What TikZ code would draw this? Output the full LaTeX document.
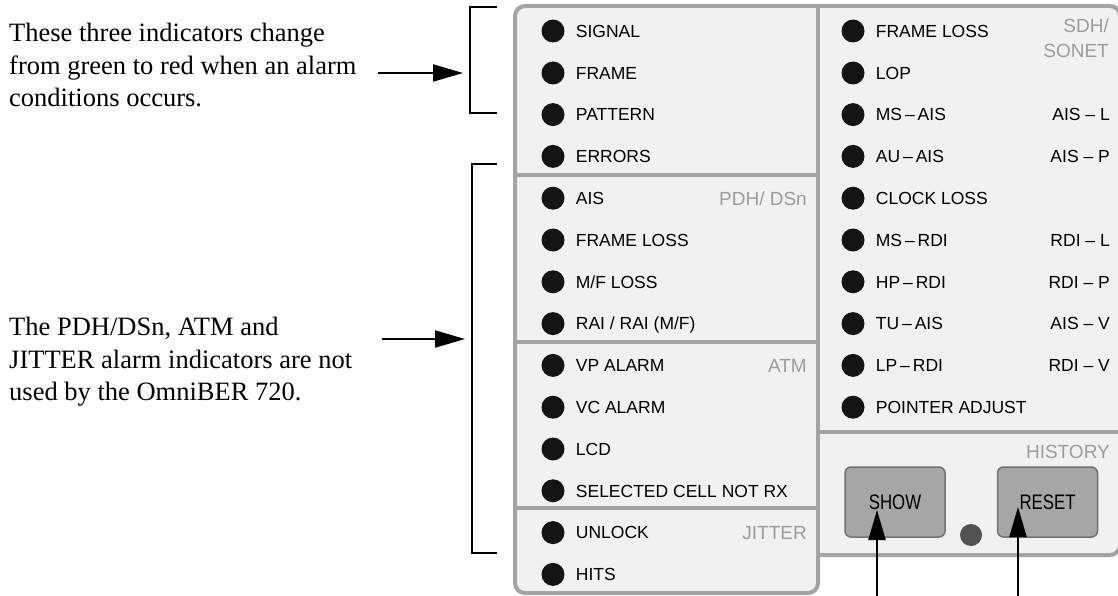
\documentclass[tikz,border=0pt]{standalone}
\usepackage{fontspec}
\setmainfont{Liberation Serif}
\setsansfont{Liberation Sans}
\newfontfamily\btnfont[FakeStretch=0.8]{Liberation Sans}
\usetikzlibrary{positioning}
\usetikzlibrary{arrows.meta}
\definecolor{panelfill}{HTML}{F1F1F1}
\definecolor{frame}{HTML}{A4A4A4}
\definecolor{grptext}{HTML}{9C9C9C}
\definecolor{btnfill}{HTML}{A6A6A6}

\begin{document}
\begin{tikzpicture}[x=1pt, y=-1pt,
  led/.style = {circle, fill=black!92, minimum size=23pt, inner sep=0pt},
  dot/.style = {circle, fill=black!68, minimum size=22pt, inner sep=0pt},
  lbl/.style = {font=\sffamily\fontsize{17.5}{20}\selectfont, inner sep=0pt, text height=12.6pt, text depth=0pt, right=11pt of #1},
  tag/.style = {font=\sffamily\fontsize{17.5}{20}\selectfont, inner sep=0pt, text height=12.6pt, text depth=0pt, anchor=east},
  grp/.style = {font=\sffamily\fontsize{19}{22}\selectfont, text=grptext, inner sep=0pt, text height=13.6pt, text depth=0pt, anchor=east},
  sdh/.style = {font=\sffamily\fontsize{19}{25}\selectfont, text=grptext, inner sep=0pt, align=right, anchor=north east},
  note/.style = {font=\fontsize{26.5}{32.5}\selectfont, align=left, inner sep=0pt, anchor=north west},
  btn/.style = {draw=black!55, line width=1.5pt, fill=btnfill, rounded corners=6pt, minimum width=100pt, minimum height=70pt, inner sep=0pt, font=\btnfont\fontsize{21}{22}\selectfont},
  pointer/.style = {line width=2.2pt, -{Triangle[length=30pt, width=17pt]}},
  bracket/.style = {line width=1.5pt}]
\clip (0,0) rectangle (1118,596);
\fill[white] (0,0) rectangle (1118,596);

% front panel
\draw[frame, line width=4pt, fill=panelfill, rounded corners=10pt]
  (818,555) -- (818,593) -- (515,593) -- (515,6) -- (1120,6) -- (1120,555) -- (818,555);
\draw[frame, line width=4pt] (818,6) -- (818,555);
\draw[frame, line width=4pt] (515,175) -- (818,175);
\draw[frame, line width=4pt] (515,342) -- (818,342);
\draw[frame, line width=4pt] (515,508) -- (818,508);
\draw[frame, line width=4pt] (818,432) -- (1120,432);

% left column
\node[led] (sig) at (553,31) {};
\node[lbl=sig] {SIGNAL};
\node[led] (frm) at (553,73) {};
\node[lbl=frm] {FRAME};
\node[led] (pat) at (553,114.6) {};
\node[lbl=pat] {PATTERN};
\node[led] (err) at (553,156.4) {};
\node[lbl=err] {ERRORS};
\node[led] (ais) at (553,198.2) {};
\node[lbl=ais] {AIS};
\node[led] (flo) at (553,240) {};
\node[lbl=flo] {FRAME LOSS};
\node[led] (mfl) at (553,281.8) {};
\node[lbl=mfl] {M/F LOSS};
\node[led] (rai) at (553,323.6) {};
\node[lbl=rai] {RAI / RAI (M/F)};
\node[led] (vpa) at (553,365.4) {};
\node[lbl=vpa] {VP ALARM};
\node[led] (vca) at (553,407.2) {};
\node[lbl=vca] {VC ALARM};
\node[led] (lcd) at (553,449) {};
\node[lbl=lcd] {LCD};
\node[led] (scn) at (553,490.8) {};
\node[lbl=scn] {SELECTED CELL NOT RX};
\node[led] (unl) at (553,532.6) {};
\node[lbl=unl] {UNLOCK};
\node[led] (hit) at (553,574.4) {};
\node[lbl=hit] {HITS};
\node[grp] (pdh) at (807,198.2) {PDH/ DSn};
\node[grp] (atm) at (807,365.4) {ATM};
\node[grp] (jit) at (807,532.6) {JITTER};

% right column
\node[led] (rfl) at (853,31) {};
\node[lbl=rfl] {FRAME LOSS};
\node[led] (lop) at (853,73) {};
\node[lbl=lop] {LOP};
\node[led] (msa) at (853,114.6) {};
\node[lbl=msa] {MS\,--\,AIS};
\node[led] (aua) at (853,156.4) {};
\node[lbl=aua] {AU\,--\,AIS};
\node[led] (clk) at (853,198.2) {};
\node[lbl=clk] {CLOCK LOSS};
\node[led] (msr) at (853,240) {};
\node[lbl=msr] {MS\,--\,RDI};
\node[led] (hpr) at (853,281.8) {};
\node[lbl=hpr] {HP\,--\,RDI};
\node[led] (tua) at (853,323.6) {};
\node[lbl=tua] {TU\,--\,AIS};
\node[led] (lpr) at (853,365.4) {};
\node[lbl=lpr] {LP\,--\,RDI};
\node[led] (ptr) at (853,407.2) {};
\node[lbl=ptr] {POINTER ADJUST};
\node[sdh] (sonet) at (1109,19) {SDH/\\SONET};
\node[tag] (aisl) at (1110,114.6) {AIS -- L};
\node[tag] (aisp) at (1110,156.4) {AIS -- P};
\node[tag] (rdil) at (1110,240) {RDI -- L};
\node[tag] (rdip) at (1110,281.8) {RDI -- P};
\node[tag] (aisv) at (1110,323.6) {AIS -- V};
\node[tag] (rdiv) at (1110,365.4) {RDI -- V};

% history buttons
\node[grp] (hist) at (1110,452) {HISTORY};
\node[btn] (show) at (895,502) {SHOW};
\node[btn] (reset) at (1047.5,502) {RESET};
\node[dot] (hled) at (971,535) {};

% notes
\node[note] (note1) at (9,23) {These three indicators change\\from green to red when an alarm\\conditions occurs.};
\node[note] (note2) at (9,317) {The PDH/DSn, ATM and\\JITTER alarm indicators are not\\used by the OmniBER 720.};
\draw[bracket] (497,7) -- (470,7) -- (470,113) -- (497,113);
\draw[bracket] (497,164) -- (472,164) -- (472,553) -- (497,553);
\coordinate (tip1) at (463,73);
\coordinate (tip2) at (465,339);
\draw[pointer, shorten <=21pt] (note1.east |- tip1) -- (tip1);
\draw[pointer, shorten <=30pt] (note2.east |- tip2) -- (tip2);
\coordinate (showfoot) at (877,600);
\coordinate (resetfoot) at (1018,600);
\draw[pointer] (showfoot) -- ([xshift=-18pt, yshift=-8pt]show.center);
\draw[pointer] (resetfoot) -- ([xshift=-29.5pt, yshift=-5pt]reset.center);
\end{tikzpicture}
\end{document}
